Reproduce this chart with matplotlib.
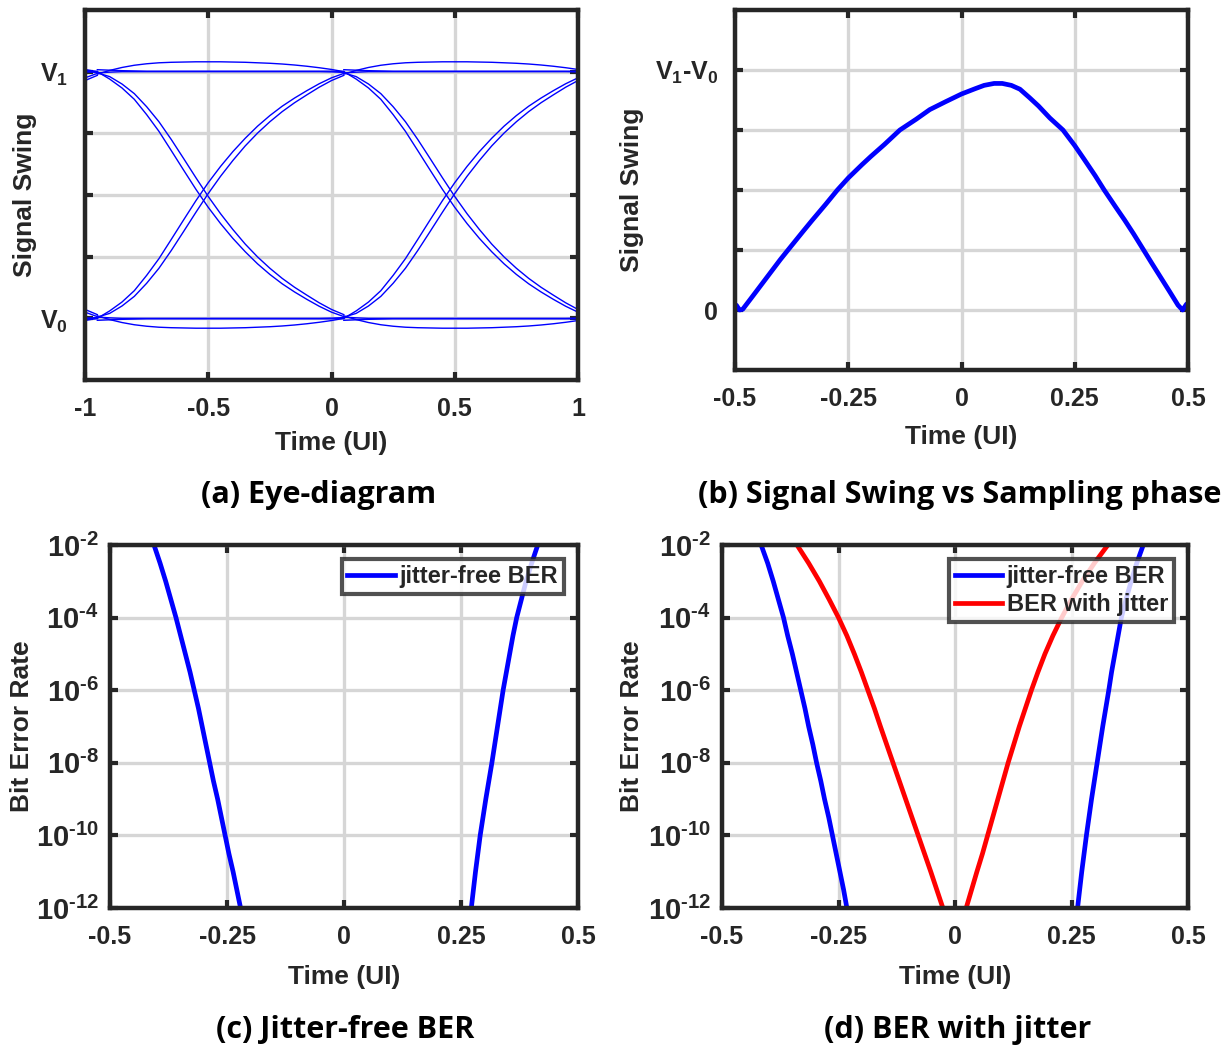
import numpy as np
import matplotlib
matplotlib.use("Agg")
import matplotlib.pyplot as plt
from matplotlib.ticker import FixedLocator, FixedFormatter, NullLocator

# ---------------- data ----------------
# (a) eye diagram: one-UI segment shapes, sampled from one bit centre to the next
seg_t = [0.00, 0.05, 0.10, 0.15, 0.20, 0.25, 0.30, 0.35, 0.40, 0.45, 0.50,
         0.55, 0.60, 0.65, 0.70, 0.75, 0.80, 0.85, 0.90, 0.95, 1.00]
rise_early = [0.000, 0.030, 0.066, 0.112, 0.174, 0.242, 0.320, 0.399, 0.477, 0.550, 0.616,
              0.676, 0.730, 0.779, 0.822, 0.860, 0.893, 0.923, 0.951, 0.975, 0.993]
rise_late = [0.005, 0.020, 0.050, 0.089, 0.142, 0.203, 0.275, 0.352, 0.430, 0.506, 0.576,
             0.640, 0.699, 0.751, 0.797, 0.838, 0.874, 0.906, 0.937, 0.964, 0.985]
fall_early = [1.000, 0.970, 0.934, 0.888, 0.826, 0.758, 0.680, 0.601, 0.523, 0.450, 0.384,
              0.324, 0.270, 0.221, 0.178, 0.140, 0.107, 0.077, 0.049, 0.025, 0.007]
fall_late = [0.995, 0.980, 0.950, 0.911, 0.858, 0.797, 0.725, 0.648, 0.570, 0.494, 0.424,
             0.360, 0.301, 0.249, 0.203, 0.162, 0.126, 0.094, 0.063, 0.036, 0.015]
high_overshoot = [0.990, 1.005, 1.017, 1.026, 1.032, 1.036, 1.038, 1.039, 1.040, 1.040, 1.040,
                  1.039, 1.038, 1.036, 1.034, 1.031, 1.027, 1.022, 1.016, 1.009, 1.000]
high_flat = [0.995, 0.998, 1.000, 1.000, 1.000, 1.000, 1.000, 1.000, 1.000, 1.000, 1.000,
             1.000, 1.000, 1.000, 1.000, 1.000, 1.000, 1.000, 1.000, 0.999, 0.997]
high_flat2 = [1.008, 1.006, 1.004, 1.003, 1.002, 1.002, 1.002, 1.002, 1.002, 1.002, 1.002,
              1.002, 1.002, 1.002, 1.002, 1.002, 1.002, 1.002, 1.002, 1.002, 1.001]
low_undershoot = [0.010, -0.005, -0.017, -0.026, -0.032, -0.036, -0.038, -0.039, -0.040, -0.040, -0.040,
                  -0.039, -0.038, -0.036, -0.034, -0.031, -0.027, -0.022, -0.016, -0.009, 0.000]
low_flat = [0.005, 0.002, 0.000, 0.000, 0.000, 0.000, 0.000, 0.000, 0.000, 0.000, 0.000,
            0.000, 0.000, 0.000, 0.000, 0.000, 0.000, 0.000, 0.000, 0.001, 0.003]
low_flat2 = [-0.008, -0.006, -0.004, -0.003, -0.002, -0.002, -0.002, -0.002, -0.002, -0.002, -0.002,
             -0.002, -0.002, -0.002, -0.002, -0.002, -0.002, -0.002, -0.002, -0.002, -0.001]
bit_centers = [-1.95, -0.95, 0.05]

# (b) signal swing vs sampling phase
swing_t = [-0.497, -0.490, -0.483, -0.46, -0.43, -0.40, -0.383, -0.35, -0.33, -0.30, -0.274,
           -0.25, -0.22, -0.20, -0.17, -0.136, -0.10, -0.07, -0.035, 0.0, 0.03, 0.05, 0.072,
           0.09, 0.11, 0.129, 0.15, 0.17, 0.195, 0.224, 0.25, 0.27, 0.295, 0.315, 0.34, 0.36,
           0.38, 0.402, 0.42, 0.44, 0.46, 0.478, 0.488, 0.497]
swing_v = [0.020, 0.000, 0.003, 0.060, 0.135, 0.210, 0.250, 0.327, 0.373, 0.440, 0.500,
           0.550, 0.605, 0.640, 0.690, 0.750, 0.795, 0.835, 0.868, 0.900, 0.922, 0.936, 0.944,
           0.944, 0.936, 0.920, 0.885, 0.850, 0.800, 0.750, 0.685, 0.630, 0.560, 0.500, 0.430, 0.375,
           0.317, 0.250, 0.195, 0.135, 0.075, 0.020, 0.000, 0.025]

# (c), (d) bit error rate curves (half-decade steps from 1e-2 down to 1e-12)
ber_levels = [1e-2, 3.16e-3, 1e-3, 3.16e-4, 1e-4, 3.16e-5, 1e-5, 3.16e-6, 1e-6, 3.16e-7, 1e-7,
              3.16e-8, 1e-8, 3.16e-9, 1e-9, 3.16e-10, 1e-10, 3.16e-11, 1e-11, 3.16e-12, 1e-12]
free_left_c = [-0.406, -0.393, -0.381, -0.370, -0.359, -0.349, -0.339, -0.329, -0.320, -0.311, -0.303,
               -0.295, -0.287, -0.279, -0.270, -0.262, -0.254, -0.246, -0.237, -0.229, -0.221]
free_right_c = [0.414, 0.401, 0.389, 0.379, 0.369, 0.361, 0.354, 0.347, 0.340, 0.334, 0.328,
                0.322, 0.316, 0.3095, 0.303, 0.297, 0.291, 0.286, 0.281, 0.2765, 0.272]
free_left_d = [-0.416, -0.402, -0.390, -0.379, -0.368, -0.359, -0.349, -0.340, -0.331, -0.322, -0.314,
               -0.305, -0.297, -0.288, -0.280, -0.271, -0.263, -0.255, -0.247, -0.239, -0.232]
free_right_d = [0.404, 0.390, 0.378, 0.367, 0.357, 0.350, 0.343, 0.336, 0.330, 0.3235, 0.317,
                0.311, 0.305, 0.299, 0.293, 0.2875, 0.282, 0.277, 0.272, 0.2675, 0.263]
jit_left_d = [-0.339, -0.314, -0.291, -0.270, -0.250, -0.232, -0.216, -0.201, -0.187, -0.173, -0.160,
              -0.1465, -0.133, -0.1195, -0.106, -0.0925, -0.079, -0.0655, -0.052, -0.039, -0.026]
jit_right_d = [0.328, 0.299, 0.273, 0.250, 0.229, 0.210, 0.193, 0.178, 0.164, 0.151, 0.138,
               0.126, 0.114, 0.103, 0.092, 0.081, 0.070, 0.059, 0.047, 0.0355, 0.024]

# ---------------- style ----------------
plt.rcParams['font.family'] = ['Liberation Sans', 'DejaVu Sans']
plt.rcParams['font.weight'] = 'bold'
plt.rcParams['mathtext.fontset'] = 'custom'
plt.rcParams['mathtext.rm'] = 'Liberation Sans:bold'
plt.rcParams['mathtext.bf'] = 'Liberation Sans:bold'
plt.rcParams['mathtext.it'] = 'Liberation Sans:bold'
plt.rcParams['mathtext.default'] = 'rm'
plt.rcParams['axes.unicode_minus'] = False

DARK = '#262626'
GRID = '#d6d6d6'
BLUE = '#0000ff'
RED = '#ff0000'

fig = plt.figure(figsize=(12.24, 10.52), dpi=100)
W, H = 1224.0, 1052.0


def make_ax(l, t, r, b):
    return fig.add_axes([l / W, 1 - b / H, (r - l) / W, (b - t) / H])


def style(ax):
    for s in ax.spines.values():
        s.set_linewidth(3.2)
        s.set_color(DARK)
    ax.tick_params(direction='in', length=6, width=3, colors=DARK, labelsize=18,
                   top=True, right=True, pad=12)
    ax.grid(True, color=GRID, linewidth=2.4)
    ax.set_axisbelow(True)
    for lab in ax.get_xticklabels() + ax.get_yticklabels():
        lab.set_fontweight('bold')


def labels(ax, ylabel, ylx, xlabel_y):
    ax.set_xlabel('Time (UI)', fontsize=19, fontweight='bold', color=DARK)
    ax.set_ylabel(ylabel, fontsize=19, fontweight='bold', color=DARK)
    ax.yaxis.set_label_coords(ylx, 0.5)
    ax.xaxis.set_label_coords(0.5, xlabel_y)


# (a) Eye diagram
ax = make_ax(85, 10, 578, 380)
t = np.array(seg_t)
shapes = [rise_early, rise_late, fall_early, fall_late, high_overshoot, high_flat, high_flat2,
          low_undershoot, low_flat, low_flat2]
for c in bit_centers:
    for sh in shapes:
        ax.plot(c + t, sh, color=BLUE, linewidth=1.0)
ax.set_xlim(-1, 1)
ax.set_ylim(-0.25, 1.25)
ax.set_xticks([-1, -0.5, 0, 0.5, 1])
ax.set_xticklabels(['-1', '-0.5', '0', '0.5', '1'])
ax.set_yticks([0, 0.25, 0.5, 0.75, 1.0])
ax.set_yticklabels(['V$_0$', '', '', '', 'V$_1$'], fontsize=22)
style(ax)
labels(ax, 'Signal Swing', -0.097, -0.138)

# (b) Signal swing vs sampling phase
ax = make_ax(735, 10, 1188, 370)
ax.plot(swing_t, swing_v, color=BLUE, linewidth=3.4, solid_capstyle='round', solid_joinstyle='round')
ax.set_xlim(-0.5, 0.5)
ax.set_ylim(-0.25, 1.25)
ax.set_xticks([-0.5, -0.25, 0, 0.25, 0.5])
ax.set_xticklabels(['-0.5', '-0.25', '0', '0.25', '0.5'])
ax.set_yticks([0, 0.25, 0.5, 0.75, 1.0])
ax.set_yticklabels(['0', '', '', '', 'V$_1$-V$_0$'], fontsize=22)
style(ax)
labels(ax, 'Signal Swing', -0.201, -0.152)


EXP = ['10$^{\\text{-12}}$', '10$^{\\text{-10}}$', '10$^{\\text{-8}}$',
       '10$^{\\text{-6}}$', '10$^{\\text{-4}}$', '10$^{\\text{-2}}$']


def ber_axes(l, t, r, b, ylx):
    ax = make_ax(l, t, r, b)
    ax.set_yscale('log')
    ax.set_xlim(-0.5, 0.5)
    ax.set_ylim(1e-12, 1e-2)
    ax.set_xticks([-0.5, -0.25, 0, 0.25, 0.5])
    ax.set_xticklabels(['-0.5', '-0.25', '0', '0.25', '0.5'])
    yt = [1e-12, 1e-10, 1e-8, 1e-6, 1e-4, 1e-2]
    ax.yaxis.set_major_locator(FixedLocator(yt))
    ax.yaxis.set_major_formatter(FixedFormatter(EXP))
    ax.yaxis.set_minor_locator(NullLocator())
    style(ax)
    ax.tick_params(axis='y', labelsize=21, pad=8)
    labels(ax, 'Bit Error Rate', ylx, -0.157)
    return ax


def legend(ax):
    leg = ax.legend(loc='upper right', fontsize=17, frameon=True, fancybox=False,
                    handlelength=2.0, handletextpad=0.2, borderpad=0.25, labelspacing=0.2,
                    borderaxespad=0.6)
    fr = leg.get_frame()
    fr.set_edgecolor(DARK)
    fr.set_linewidth(3)
    for txt in leg.get_texts():
        txt.set_fontweight('bold')
        txt.set_color(DARK)


# (c) Jitter-free BER
ax = ber_axes(110, 545, 578, 908, -0.162)
ax.plot(free_left_c, ber_levels, color=BLUE, linewidth=3.4, label='jitter-free BER')
ax.plot(free_right_c, ber_levels, color=BLUE, linewidth=3.4)
legend(ax)

# (d) BER with jitter
ax = ber_axes(722, 545, 1188, 908, -0.167)
ax.plot(free_left_d, ber_levels, color=BLUE, linewidth=3.4, label='jitter-free BER')
ax.plot(free_right_d, ber_levels, color=BLUE, linewidth=3.4)
ax.plot(jit_left_d, ber_levels, color=RED, linewidth=3.4, label='BER with jitter')
ax.plot(jit_right_d, ber_levels, color=RED, linewidth=3.4)
legend(ax)

# captions
cap = dict(fontsize=22, fontweight='bold', family=['Open Sans', 'DejaVu Sans'],
           ha='center', va='center', color='black')
fig.text(319 / W, 1 - 495 / H, '(a) Eye-diagram', **cap)
fig.text(960 / W, 1 - 495 / H, '(b) Signal Swing vs Sampling phase', **cap)
fig.text(345 / W, 1 - 1030 / H, '(c) Jitter-free BER', **cap)
fig.text(958 / W, 1 - 1030 / H, '(d) BER with jitter', **cap)

fig.savefig('out.png', dpi=100, facecolor='white')
